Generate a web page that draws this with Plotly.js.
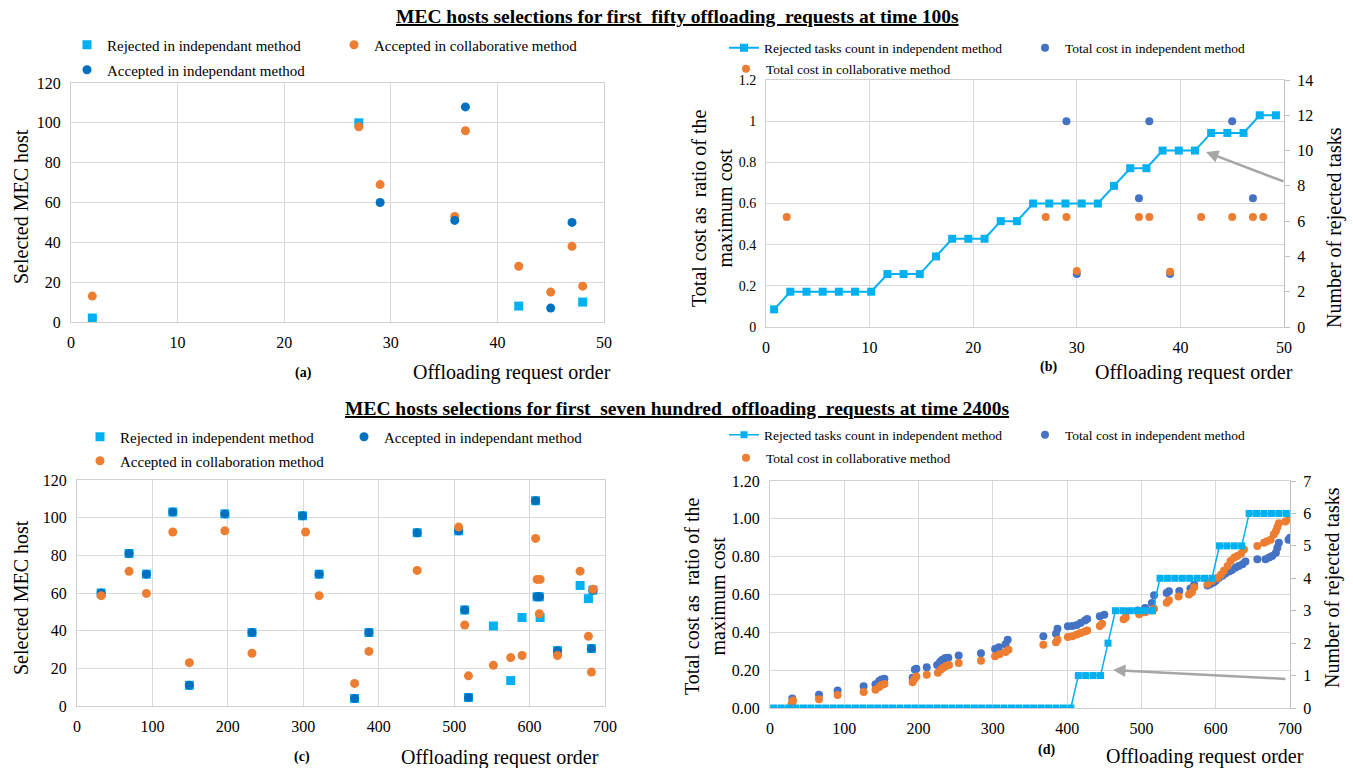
<!DOCTYPE html>
<html>
<head>
<meta charset="utf-8">
<script src="https://cdn.plot.ly/plotly-3.0.1.min.js"></script>
<style>html,body{margin:0;padding:0;background:#fff;}#chart{width:1353px;height:768px;}</style>
</head>
<body>
<div id="chart"></div>
<script>
// ---------- Panel (a): first fifty requests at 100s ----------
const aRejX = [2, 27, 42, 48];
const aRejY = [2, 100, 8, 10];
const aCollabX = [2, 27, 29, 36, 37, 42, 45, 47, 48];
const aCollabY = [13, 98, 69, 53, 96, 28, 15, 38, 18];
const aIndepX = [29, 36, 37, 45, 47];
const aIndepY = [60, 51, 108, 7, 50];

// ---------- Panel (b) ----------
const bLineIdx = [1,2,3,4,5,6,7,8,9,10,11,12,13,14,15,16,17,18,19,20,21,22,23,24,25,26,27,28,29,30,31,32];
const bRejected = [1,2,2,2,2,2,2,3,3,3,4,5,5,5,6,6,7,7,7,7,7,8,9,9,10,10,10,11,11,11,12,12];
const bIndepX = [29, 30, 36, 37, 39, 45, 47];
const bIndepY = [1.0, 0.257, 0.625, 1.0, 0.257, 1.0, 0.625];
const bCollabX = [2, 27, 29, 30, 36, 37, 39, 42, 45, 47, 48];
const bCollabY = [0.535, 0.535, 0.535, 0.272, 0.535, 0.535, 0.268, 0.535, 0.535, 0.535, 0.535];

// ---------- Panel (c): first seven hundred requests at 2400s ----------
const cRejX = [32, 69, 92, 127, 149, 196, 232, 299, 321, 368, 387, 451, 506, 514, 519, 552, 575, 590, 608, 610, 613, 614, 637, 667, 678, 682, 684];
const cRejY = [60, 81, 70, 103, 11, 102, 39, 101, 70, 4, 39, 92, 93, 51, 4.5, 42.5, 13.5, 47, 109, 58, 58, 47, 29.4, 64, 57, 30.5, 61.5];
const cIndepX = [32, 69, 92, 127, 149, 196, 232, 299, 321, 368, 387, 451, 506, 514, 519, 608, 610, 613, 637, 682, 684];
const cIndepY = [60, 81, 70, 103, 11, 102, 39, 101, 70, 4, 39, 92, 93, 51, 4.5, 109, 58, 58, 29.4, 30.5, 61.5];
const cCollabX = [32, 69, 92, 127, 149, 196, 232, 303, 321, 368, 387, 451, 506, 514, 519, 552, 575, 590, 608, 610, 613, 614, 637, 667, 678, 682, 684];
const cCollabY = [58.6, 71.5, 59.8, 92.4, 23, 93, 28, 92.4, 58.6, 12, 29, 72, 95, 43, 16, 21.6, 25.7, 26.8, 89, 67.2, 49, 67.2, 26.8, 71.6, 37, 18, 62];

// ---------- Panel (d) ----------
const dLineIdx = [1,2,3,4,5,6,7,8,9,10,11,12,13,14,15,16,17,18,19,20,21,22,23,24,25,26,27,28,29,30,31,32,33,34,35,36,37,38,39,40,41,42,43,44,45,46,47,48,49,50,51,52,53,54,55,56,57,58,59,60,61,62,63,64,65,66,67,68,69,70];
const dRejected = [0,0,0,0,0,0,0,0,0,0,0,0,0,0,0,0,0,0,0,0,0,0,0,0,0,0,0,0,0,0,0,0,0,0,0,0,0,0,0,0,0,1,1,1,1,2,3,3,3,3,3,3,4,4,4,4,4,4,4,4,5,5,5,5,6,6,6,6,6,6];
const dIndepX = [30,66,91,126,142,147,150,154,192,195,197,211,225,229,232,236,240,254,284,303,308,317,320,368,385,387,401,407,413,418,424,427,444,450,479,495,505,514,517,534,537,551,566,571,589,593,597,600,604,609,613,618,622,627,631,636,640,656,667,672,676,681,683,685,698,700];
const dIndepY = [0.05,0.07,0.092,0.115,0.125,0.143,0.15,0.155,0.16,0.203,0.208,0.215,0.227,0.245,0.255,0.264,0.266,0.277,0.289,0.312,0.321,0.337,0.361,0.379,0.393,0.419,0.432,0.434,0.439,0.449,0.463,0.47,0.485,0.493,0.508,0.516,0.529,0.555,0.596,0.608,0.617,0.619,0.632,0.652,0.647,0.656,0.664,0.673,0.687,0.699,0.711,0.722,0.73,0.743,0.751,0.76,0.774,0.786,0.786,0.795,0.803,0.821,0.847,0.873,0.89,0.9];
const dCollabX = [29,30,31,66,91,126,142,147,150,154,192,194,197,211,226,230,233,237,241,254,284,303,309,317,321,368,385,387,401,407,413,418,424,427,444,447,476,479,497,505,514,517,534,537,550,564,568,571,589,595,602,607,611,616,620,625,629,634,638,656,665,669,674,678,681,683,685,694,699];
const dCollabY = [0.02,0.03,0.04,0.046,0.069,0.085,0.097,0.111,0.122,0.127,0.136,0.152,0.166,0.176,0.187,0.203,0.213,0.222,0.227,0.238,0.25,0.273,0.284,0.296,0.308,0.335,0.347,0.361,0.375,0.379,0.388,0.397,0.405,0.41,0.434,0.446,0.469,0.478,0.495,0.506,0.516,0.525,0.557,0.569,0.59,0.6,0.612,0.638,0.656,0.673,0.687,0.704,0.725,0.751,0.777,0.795,0.803,0.816,0.838,0.856,0.873,0.882,0.89,0.917,0.934,0.955,0.977,0.986,1.0];

// ---------- Text ----------
const titleTop = 'MEC hosts selections for first&nbsp; fifty offloading&nbsp; requests at time 100s';
const titleBottom = 'MEC hosts selections for first&nbsp; seven hundred&nbsp; offloading&nbsp; requests at time 2400s';
const xTitle = 'Offloading request order';
const yTitleHost = 'Selected MEC host';
const yTitleCost = 'Total cost as&nbsp; ratio of the<br>maximum cost';
const yTitleRejected = 'Number of rejected tasks';

const LIGHT = '#00B0F0', DARK = '#0070C0', BLUE = '#4472C4', ORANGE = '#ED7D31';
const FONT = 'Liberation Serif';
const W = 1353, H = 768;
const px = v => v / W;
const py = v => 1 - v / H;

const traces = [
  // (a)
  {type:'scatter', mode:'markers', x:aRejX, y:aRejY, xaxis:'x', yaxis:'y', name:'Rejected in independant method', legend:'legend',
   marker:{symbol:'square', size:9, color:LIGHT}},
  {type:'scatter', mode:'markers', x:aCollabX, y:aCollabY, xaxis:'x', yaxis:'y', name:'Accepted in collaborative method', legend:'legend2',
   marker:{symbol:'circle', size:9, color:ORANGE}},
  {type:'scatter', mode:'markers', x:aIndepX, y:aIndepY, xaxis:'x', yaxis:'y', name:'Accepted in independant method', legend:'legend3',
   marker:{symbol:'circle', size:9, color:DARK}},
  // (b)
  {type:'scatter', mode:'markers', x:bIndepX, y:bIndepY, xaxis:'x2', yaxis:'y2', name:'Total cost in independent method', legend:'legend5',
   marker:{symbol:'circle', size:8, color:BLUE}},
  {type:'scatter', mode:'markers', x:bCollabX, y:bCollabY, xaxis:'x2', yaxis:'y2', name:'Total cost in collaborative method', legend:'legend6',
   marker:{symbol:'circle', size:8, color:ORANGE}},
  {type:'scatter', mode:'lines+markers', x:bLineIdx, y:bRejected, xaxis:'x5', yaxis:'y3', name:'Rejected tasks count in independent method', legend:'legend4',
   line:{color:LIGHT, width:2}, marker:{symbol:'square', size:8, color:LIGHT}},
  // (c)
  {type:'scatter', mode:'markers', x:cRejX, y:cRejY, xaxis:'x3', yaxis:'y4', name:'Rejected in independent method', legend:'legend7',
   marker:{symbol:'square', size:9, color:LIGHT}},
  {type:'scatter', mode:'markers', x:cIndepX, y:cIndepY, xaxis:'x3', yaxis:'y4', name:'Accepted in independant method', legend:'legend8',
   marker:{symbol:'circle', size:9, color:DARK}},
  {type:'scatter', mode:'markers', x:cCollabX, y:cCollabY, xaxis:'x3', yaxis:'y4', name:'Accepted in collaboration method', legend:'legend9',
   marker:{symbol:'circle', size:9, color:ORANGE}},
  // (d)
  {type:'scatter', mode:'markers', x:dIndepX, y:dIndepY, xaxis:'x4', yaxis:'y5', name:'Total cost in independent method', legend:'legend11',
   marker:{symbol:'circle', size:8, color:BLUE}},
  {type:'scatter', mode:'markers', x:dCollabX, y:dCollabY, xaxis:'x4', yaxis:'y5', name:'Total cost in collaborative method', legend:'legend12',
   marker:{symbol:'circle', size:8, color:ORANGE}},
  {type:'scatter', mode:'lines+markers', x:dLineIdx, y:dRejected, xaxis:'x6', yaxis:'y6', name:'Rejected tasks count in independent method', legend:'legend10',
   line:{color:LIGHT, width:1.5}, marker:{symbol:'square', size:7, color:LIGHT}}
];

const GRID = '#D9D9D9', LINE = '#D0D0D0';
function ax(extra) {
  return Object.assign({
    showgrid:true, gridcolor:GRID, gridwidth:1, zeroline:false,
    showline:true, linecolor:LINE, linewidth:1, mirror:true,
    ticks:'', tickfont:{family:FONT, size:16, color:'#000'}, ticklabelstandoff:6,
    fixedrange:true
  }, extra);
}

function legendAt(x, y, size) {
  return {x:px(x), y:py(y), xanchor:'left', yanchor:'middle', orientation:'h',
    bgcolor:'rgba(0,0,0,0)', borderwidth:0, itemwidth:30,
    font:{family:FONT, size:size, color:'#000'}};
}

function note(text, x, y, size, extra) {
  return Object.assign({text:text, x:px(x), y:py(y), xref:'paper', yref:'paper', showarrow:false,
    xanchor:'center', yanchor:'middle', font:{family:FONT, size:size, color:'#000'}}, extra || {});
}

const layout = {
  width:W, height:H, margin:{l:0, r:0, t:0, b:0},
  paper_bgcolor:'#fff', plot_bgcolor:'#fff', showlegend:true,
  font:{family:FONT, color:'#000'},
  // (a)
  xaxis: ax({domain:[px(71), px(604)], range:[0,50], dtick:10, anchor:'y'}),
  yaxis: ax({domain:[py(322), py(83)], range:[0,120], dtick:20, anchor:'x'}),
  // (b)
  xaxis2: ax({domain:[px(766), px(1284)], range:[0,50], dtick:10, anchor:'y2'}),
  yaxis2: ax({domain:[py(327), py(80)], range:[0,1.2], dtick:0.2, anchor:'x2', mirror:false, tickfont:{family:FONT, size:14, color:'#000'}}),
  yaxis3: ax({range:[0,14], dtick:2, overlaying:'y2', side:'right', anchor:'x2', showgrid:false, mirror:false,
              linecolor:'#BFBFBF', ticks:'outside', ticklen:5, tickcolor:'#BFBFBF', ticklabelstandoff:4}),
  xaxis5: {overlaying:'x2', range:[0.5,32.5], visible:false, anchor:'y3', fixedrange:true},
  // (c)
  xaxis3: ax({domain:[px(77), px(605)], range:[0,700], dtick:100, anchor:'y4'}),
  yaxis4: ax({domain:[py(706), py(480)], range:[0,120], dtick:20, anchor:'x3'}),
  // (d)
  xaxis4: ax({domain:[px(770), px(1290)], range:[0,700], dtick:100, anchor:'y5'}),
  yaxis5: ax({domain:[py(708), py(481)], range:[0,1.2], dtick:0.2, tickformat:'.2f', anchor:'x4', mirror:false}),
  yaxis6: ax({range:[0,7], dtick:1, overlaying:'y5', side:'right', anchor:'x4', showgrid:false, mirror:false,
              linecolor:'#BFBFBF', ticks:'outside', ticklen:5, tickcolor:'#BFBFBF', ticklabelstandoff:4}),
  xaxis6: {overlaying:'x4', range:[0.5,70.5], visible:false, anchor:'y6', fixedrange:true},

  legend:   legendAt(67, 45, 15),
  legend2:  legendAt(334, 45, 15),
  legend3:  legendAt(67, 70, 15),
  legend4:  legendAt(724, 48, 13.5),
  legend5:  legendAt(1025, 48, 13.5),
  legend6:  legendAt(726, 69, 13.5),
  legend7:  legendAt(80, 437, 15),
  legend8:  legendAt(344, 437, 15),
  legend9:  legendAt(80, 461, 15),
  legend10: legendAt(724, 435, 13.5),
  legend11: legendAt(1025, 435, 13.5),
  legend12: legendAt(726, 458, 13.5),

  annotations: [
    note('<b><span style="text-decoration:underline">' + titleTop + '</span></b>', 677, 16, 19.5),
    note('<b><span style="text-decoration:underline">' + titleBottom + '</span></b>', 677, 408, 19.5),
    // x titles
    note(xTitle, 512, 373, 20),
    note(xTitle, 1194, 373, 20),
    note(xTitle, 500, 757, 20),
    note(xTitle, 1205, 756, 20),
    // panel labels
    note('<b>(a)</b>', 303, 373, 14),
    note('<b>(b)</b>', 1048, 367, 14),
    note('<b>(c)</b>', 302, 757, 14),
    note('<b>(d)</b>', 1046, 750, 14),
    // y titles
    note(yTitleHost, 21, 207, 20, {textangle:-90}),
    note(yTitleHost, 21, 598, 20, {textangle:-90}),
    note(yTitleCost, 712, 208, 20, {textangle:-90}),
    note(yTitleCost, 705, 596, 20, {textangle:-90}),
    note(yTitleRejected, 1334, 228, 20, {textangle:-90}),
    note(yTitleRejected, 1332, 588, 20, {textangle:-90}),
    // arrows
    {text:'', x:px(1206), y:py(152), xref:'paper', yref:'paper', showarrow:true, ax:79, ay:30,
     arrowhead:2, arrowsize:1, arrowwidth:2.5, arrowcolor:'#A6A6A6', standoff:0},
    {text:'', x:px(1113), y:py(670), xref:'paper', yref:'paper', showarrow:true, ax:174, ay:9,
     arrowhead:2, arrowsize:1, arrowwidth:2.5, arrowcolor:'#A6A6A6', standoff:0}
  ]
};

Plotly.newPlot('chart', traces, layout, {displayModeBar:false, staticPlot:true});
</script>
</body>
</html>
